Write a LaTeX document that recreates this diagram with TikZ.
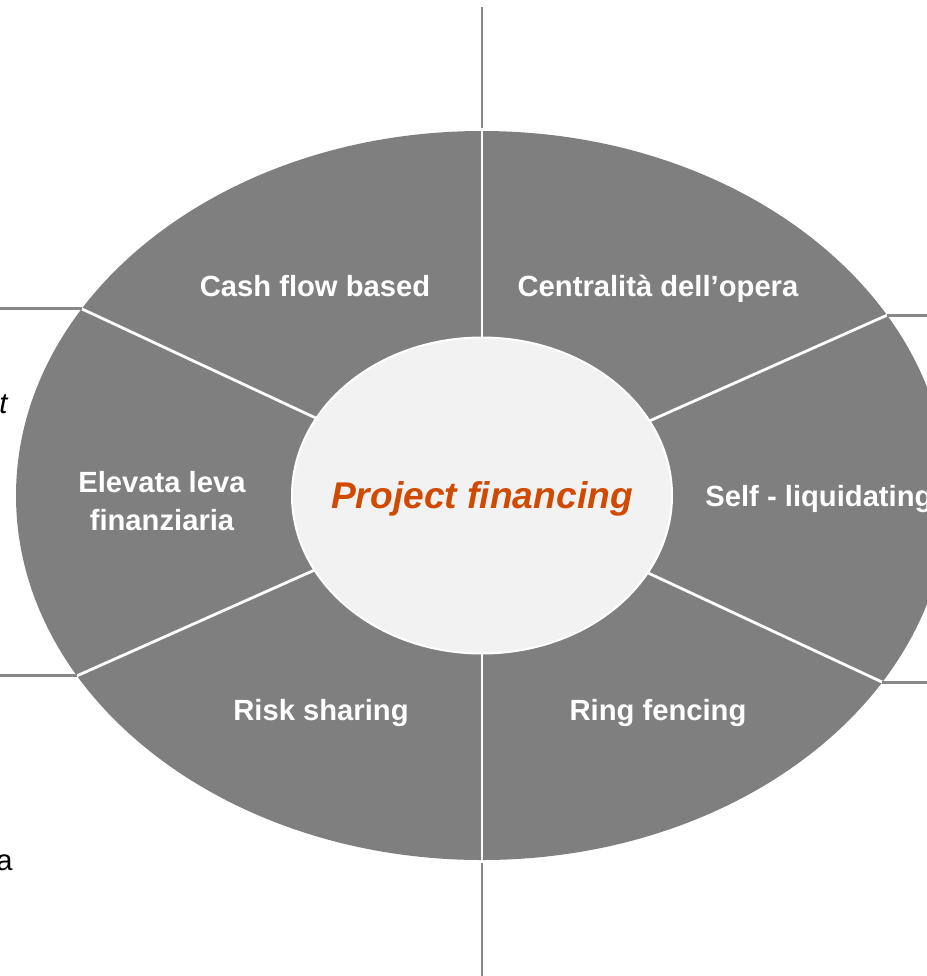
\documentclass[tikz,border=0pt]{standalone}
\usepackage{fontspec}
\setmainfont{Liberation Sans}
\usepackage{tikz}
\usetikzlibrary{
    shapes.geometric,
    calc,
}
\usepackage{xcolor}
\definecolor{segfill}{HTML}{7F7F7F}
\definecolor{hubfill}{HTML}{F2F2F2}
\definecolor{hubtext}{HTML}{D04A02}
\definecolor{leadgray}{HTML}{888888}

\begin{document}
\begin{tikzpicture}[
    x=0.5pt, y=-0.5pt,
    ring/.style     = {ellipse, fill=segfill, inner sep=0pt, outer sep=0pt,
                       minimum width=466pt, minimum height=364.5pt},
    hub/.style      = {ellipse, fill=hubfill, draw=white, line width=1pt,
                       inner sep=0pt, minimum width=190pt, minimum height=158pt},
    hublabel/.style = {text=hubtext, inner sep=0pt, text depth=0pt,
                       font=\fontsize{18.6}{22}\selectfont\bfseries\itshape},
    divider/.style  = {draw=white, line width=1.4pt},
    lead/.style     = {draw=leadgray, line width=1.4pt},
    seg/.style      = {text=white, inner sep=0pt, align=center,
                       font=\fontsize{14.6}{19}\selectfont\bfseries},
    cut/.style      = {text=black, inner sep=0pt, anchor=base east,
                       font=\fontsize{14.6}{17}\selectfont},
]

\useasboundingbox (0,0) rectangle (927,976);
\clip (0,0) rectangle (927,976);

%% ── Outer ring and spokes ───────────────────────────────────────────────────
\coordinate (c) at (482,495.5);
\node[ring] (ring) at (c) {};

\foreach \ang in {90,24.25,155.75,204.25,335.75,270}
  \draw[divider] (c) -- (ring.\ang);

%% ── Hub ─────────────────────────────────────────────────────────────────────
\node[hub] (hub) at (c) {};
\node[hublabel] (pf) at (hub.center) {Project financing};

%% ── Lead lines ──────────────────────────────────────────────────────────────
\coordinate (topend) at (482,7);
\coordinate (botend) at (482,980);
\coordinate (leftedge) at (-5,0);
\coordinate (rightedge) at (935,0);

\draw[lead] ([yshift=1.5pt]ring.north) -- (topend);
\draw[lead] ([yshift=-1.5pt]ring.south) -- (botend);
\draw[lead] (ring.155.75) -- (ring.155.75 -| leftedge);
\draw[lead] (ring.204.25) -- (ring.204.25 -| leftedge);
\draw[lead] (ring.24.25) -- (ring.24.25 -| rightedge);
\draw[lead] (ring.335.75) -- (ring.335.75 -| rightedge);

%% ── Segment labels ──────────────────────────────────────────────────────────
\node[seg, anchor=base] (cash) at (315,296.5) {Cash flow based};
\node[seg, anchor=base] (opera) at (658,296.5) {Centralità dell’opera};
\node[seg] (leva) at (162,501) {Elevata leva\\finanziaria};
\node[seg, anchor=base west] (self) at (705,506.5) {Self - liquidating};
\node[seg, anchor=base] (risk) at (321,720) {Risk sharing};
\node[seg, anchor=base] (ring fence) at (658,720) {Ring fencing};

%% ── Text running in from the left ───────────────────────────────────────────
\node[cut] (tcut) at (8,413) {\itshape t};
\node[cut] (acut) at (13,870) {a};

\end{tikzpicture}
\end{document}
